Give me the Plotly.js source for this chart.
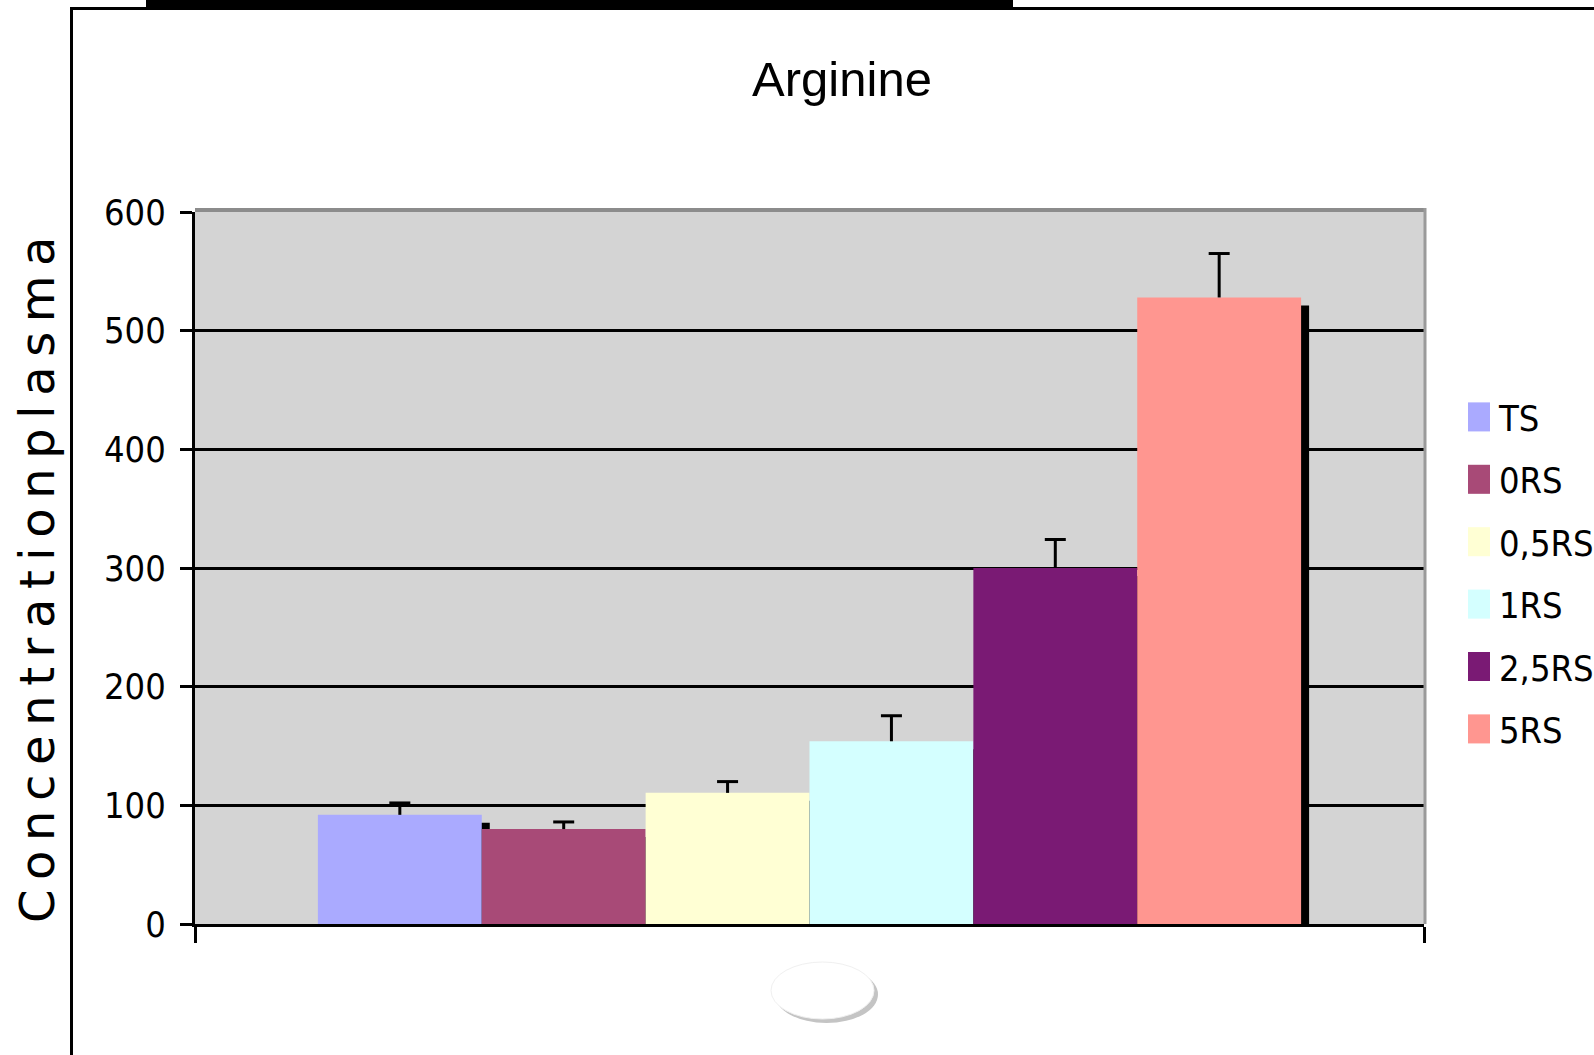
<!DOCTYPE html>
<html>
<head>
<meta charset="utf-8">
<script src="https://cdn.plot.ly/plotly-3.0.1.min.js"></script>
<style>
  html, body { margin: 0; padding: 0; background: #ffffff; }
  #chart { width: 1594px; height: 1055px; }
</style>
</head>
<body>
<div id="chart"></div>
<script>
// ---- data ----
const categories = ['Arginine'];
const seriesNames = ['TS', '0RS', '0,5RS', '1RS', '2,5RS', '5RS'];
const seriesValues = [92, 80, 110.5, 154, 300, 528];
const seriesErrors = [10, 6, 9.5, 21.5, 24, 37];
const yTickVals = [0, 100, 200, 300, 400, 500, 600];
const yTickText = ['0', '100', '200', '300', '400', '500', '600'];
const chartTitle = 'Arginine';
const yTitle = 'Concentrationplasma';

// ---- styles ----
const seriesColors = ['#aaaaff', '#a84a77', '#ffffd4', '#d4ffff', '#7a1a74', '#ff9690'];
const W = 1594, H = 1055;
const M = { l: 195, r: 170, t: 212, b: 131, autoexpand: false };
const plotW = W - M.l - M.r, plotH = H - M.t - M.b;
const yMax = 600;
const shadowPx = 8;
const shadowX = shadowPx / plotW;                 // in category-axis units (range width 1)
const shadowY = shadowPx * yMax / plotH;          // in y units

const px = x => (x - M.l) / plotW;
const py = y => (H - M.b - y) / plotH;

const spaced = yTitle.split('').join('\u2009');
const condensed = 'DejaVu Sans Condensed, DejaVu Sans, sans-serif';

const traces = [];
// shadow bars (behind), on the base x axis shifted right
seriesNames.forEach((name, i) => {
  traces.push({
    type: 'bar', x: categories, y: [seriesValues[i]], base: [-shadowY],
    xaxis: 'x', yaxis: 'y', name: name + ' shadow', showlegend: false,
    marker: { color: '#000000' }, hoverinfo: 'skip'
  });
});
// main bars on overlaying x2
seriesNames.forEach((name, i) => {
  traces.push({
    type: 'bar', x: categories, y: [seriesValues[i]],
    xaxis: 'x2', yaxis: 'y', name: name, legendgroup: name,
    marker: { color: seriesColors[i] }
  });
});
// error bars drawn as "T": stem going down from the cap to the bar top
seriesNames.forEach((name, i) => {
  traces.push({
    type: 'scatter', mode: 'markers', x: categories, y: [seriesValues[i] + seriesErrors[i]],
    xaxis: 'x2', yaxis: 'y', name: name + ' error', showlegend: false, legendgroup: name,
    marker: { symbol: 'line-ew', size: 15, color: '#000000', line: { color: '#000000', width: 3 } },
    error_y: { type: 'data', symmetric: false, array: [0], arrayminus: [seriesErrors[i]],
               color: '#000000', thickness: 3, width: 0 },
    cliponaxis: false
  });
});

const layout = {
  width: W, height: H,
  margin: M,
  paper_bgcolor: '#ffffff',
  plot_bgcolor: '#d4d4d4',
  barmode: 'group',
  bargap: 0.2,
  bargroupgap: 0,
  scattermode: 'group',
  scattergap: 0.2,
  showlegend: true,
  title: {
    text: chartTitle, x: 842 / W, xanchor: 'center', y: 1 - 79 / H, yanchor: 'middle',
    xref: 'container', yref: 'container',
    font: { family: 'Liberation Sans, Arial, sans-serif', size: 49, color: '#000000' }
  },
  xaxis: {
    type: 'category', visible: false, fixedrange: true,
    range: [-0.5 - shadowX, 0.5 - shadowX]
  },
  xaxis2: {
    type: 'category', overlaying: 'x', anchor: 'y', side: 'bottom',
    range: [-0.5, 0.5],
    showline: true, linecolor: '#000000', linewidth: 3,
    ticks: 'outside', tickson: 'boundaries', ticklen: 16, tickwidth: 3, tickcolor: '#000000',
    showticklabels: false, showgrid: false, zeroline: false
  },
  yaxis: {
    range: [0, yMax], tickmode: 'array', tickvals: yTickVals, ticktext: yTickText,
    showline: true, linecolor: '#000000', linewidth: 3,
    ticks: 'outside', ticklen: 12, tickwidth: 3, tickcolor: '#000000',
    ticklabelstandoff: 7,
    showgrid: true, gridcolor: '#000000', gridwidth: 3, zeroline: false,
    tickfont: { family: condensed, size: 36, color: '#000000' }
  },
  legend: {
    x: px(1459), xanchor: 'left', y: py(387), yanchor: 'top',
    traceorder: 'grouped', tracegroupgap: 12.6,
    bgcolor: 'rgba(0,0,0,0)',
    font: { family: condensed, size: 36, color: '#000000' }
  },
  annotations: [{
    text: spaced, textangle: -90, showarrow: false,
    xref: 'paper', yref: 'paper', x: px(37), y: py(580), xanchor: 'center', yanchor: 'middle',
    font: { family: 'DejaVu Sans, sans-serif', size: 48, color: '#000000' }
  }],
  shapes: [
    // plot-area top and right borders (gray)
    { type: 'line', xref: 'paper', yref: 'paper', x0: 0, x1: px(1426), y0: py(210), y1: py(210),
      line: { color: '#8c8c8c', width: 4 } },
    { type: 'line', xref: 'paper', yref: 'paper', x0: px(1425), x1: px(1425), y0: py(208), y1: 0,
      line: { color: '#9a9a9a', width: 3 } },
    // outer frame
    { type: 'line', xref: 'paper', yref: 'paper', x0: px(71.5), x1: px(71.5), y0: py(7.5), y1: py(1060),
      line: { color: '#000000', width: 3 } },
    { type: 'line', xref: 'paper', yref: 'paper', x0: px(70), x1: px(1600), y0: py(8.5), y1: py(8.5),
      line: { color: '#000000', width: 3 } },
    { type: 'rect', xref: 'paper', yref: 'paper', x0: px(146), x1: px(1013), y0: py(-2), y1: py(9.5),
      fillcolor: '#000000', line: { width: 0 } },
    // decorative ellipse with shadow
    { type: 'circle', xref: 'paper', yref: 'paper', x0: px(775), x1: px(878), y0: py(966), y1: py(1023),
      fillcolor: '#c4c4c4', line: { width: 0 } },
    { type: 'circle', xref: 'paper', yref: 'paper', x0: px(771), x1: px(874), y0: py(962), y1: py(1019),
      fillcolor: '#ffffff', line: { color: '#f0f0f0', width: 1 } }
  ]
};

Plotly.newPlot('chart', traces, layout, { displayModeBar: false, staticPlot: true }).then(gd => {
  // enlarge legend swatches to the reference's size
  gd.querySelectorAll('.legend .legendpoints path').forEach(p => {
    const t = p.getAttribute('transform') || '';
    p.setAttribute('transform', (t + ' scale(1.83,2.42)').trim());
  });
});
</script>
</body>
</html>
